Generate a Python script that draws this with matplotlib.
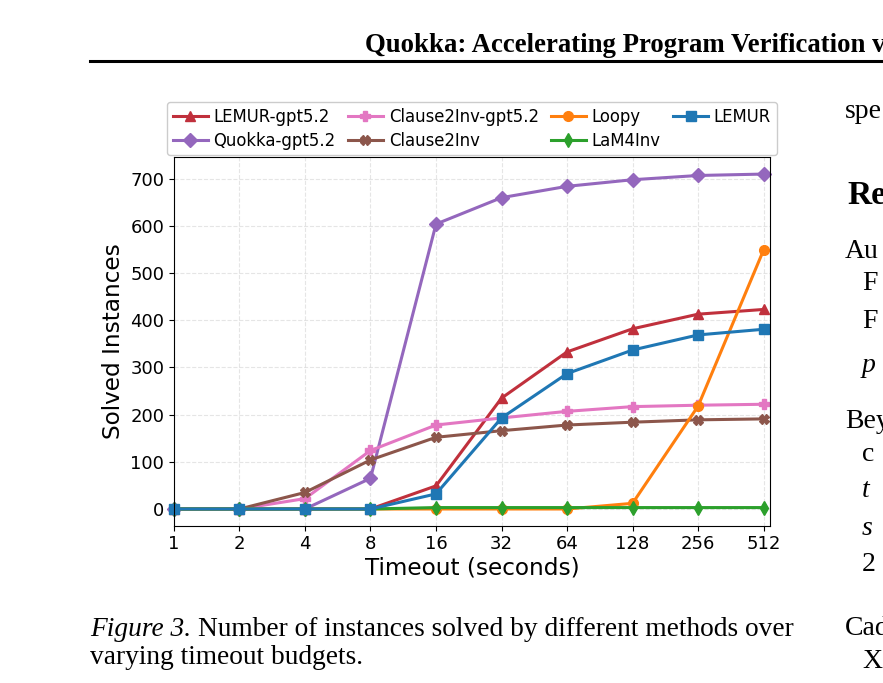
import numpy as np
import matplotlib
matplotlib.use('Agg')
import matplotlib.pyplot as plt

# timeouts in seconds
timeouts = [1, 2, 4, 8, 16, 32, 64, 128, 256, 512]

lemur_gpt = [0, 0, 0, 0, 49, 235, 333, 382, 413, 423]
quokka_gpt = [0, 0, 0, 65, 604, 660, 684, 698, 707, 710]
clause2inv_gpt = [0, 0, 22, 124, 178, 193, 207, 217, 220, 222]
clause2inv = [0, 0, 35, 104, 152, 166, 178, 184, 189, 191]
loopy = [0, 0, 0, 0, 0, 0, 0, 12, 218, 549]
lam4inv = [0, 0, 0, 0, 3, 3, 3, 3, 3, 3]
lemur = [0, 0, 0, 0, 32, 193, 287, 337, 369, 381]

series = [
    ('LEMUR-gpt5.2', lemur_gpt, '#c0303c', '^'),
    ('Quokka-gpt5.2', quokka_gpt, '#9467bd', 'D'),
    ('Clause2Inv-gpt5.2', clause2inv_gpt, '#e377c2', 'P'),
    ('Clause2Inv', clause2inv, '#8c564b', 'X'),
    ('Loopy', loopy, '#ff7f0e', 'o'),
    ('LaM4Inv', lam4inv, '#2ca02c', 'd'),
    ('LEMUR', lemur, '#1f77b4', 's'),
]

fig = plt.figure(figsize=(8.83, 6.83), dpi=100)
ax = fig.add_axes([0.197, 0.2306, 0.675, 0.5394])

for name, vals, col, mk in series:
    ax.plot(timeouts, vals, color=col, marker=mk, lw=2.2, ms=7, label=name,
            clip_on=False)

ax.set_xscale('log', base=2)
ax.set_xlim(1, 512 * 1.07)
ax.set_xticks(timeouts)
ax.set_xticklabels([str(t) for t in timeouts])
ax.minorticks_off()
ax.set_ylim(-35, 746)
ax.set_yticks([0, 100, 200, 300, 400, 500, 600, 700])
ax.tick_params(labelsize=13)
ax.set_xlabel('Timeout (seconds)', fontsize=16.7, labelpad=2)
ax.set_ylabel('Solved Instances', fontsize=16.7, labelpad=4)
ax.grid(True, ls='--', color='#cccccc', alpha=0.5, lw=0.8)

ax.legend(loc='lower center', bbox_to_anchor=(0.5, 1.0), ncol=4, fontsize=11.9,
          borderaxespad=0.1, columnspacing=0.75, handlelength=2.1,
          handletextpad=0.36, labelspacing=0.35, borderpad=0.35,
          framealpha=1, edgecolor='#cccccc')

# page bits around the figure (cut at the right edge like the page crop)
serif = 'Liberation Serif'
fig.text(365 / 883, 1 - 52 / 683, 'Quokka: Accelerating Program Verification via',
         fontsize=19.3, fontweight='bold', family=serif, va='baseline')
fig.add_artist(plt.Line2D([90 / 883, 1.0], [1 - 61 / 683] * 2, color='black', lw=2.2))

fig_lbl = fig.text(90 / 883, 1 - 636 / 683, 'Figure 3.', fontsize=19.7, style='italic',
                   family=serif, va='baseline')
r = fig.canvas.get_renderer()
bb = fig_lbl.get_window_extent(renderer=r)
fig.text(bb.x1 / 883 + 7 / 883, 1 - 636 / 683,
         'Number of instances solved by different methods over',
         fontsize=19.7, family=serif, va='baseline')
fig.text(90 / 883, 1 - 664 / 683, 'varying timeout budgets.', fontsize=19.7,
         family=serif, va='baseline')

right = [
    (845, 118, 'spe', 'normal', 'normal', 20),
    (847, 204, 'Re', 'bold', 'normal', 24),
    (845, 258, 'Au', 'normal', 'normal', 20),
    (862, 290, 'F', 'normal', 'normal', 20),
    (862, 328, 'F', 'normal', 'normal', 20),
    (862, 372, 'p', 'normal', 'italic', 20),
    (845, 428, 'Bey', 'normal', 'normal', 20),
    (862, 461, 'c', 'normal', 'normal', 20),
    (862, 497, 't', 'normal', 'italic', 20),
    (862, 535, 's', 'normal', 'italic', 20),
    (862, 571, '2', 'normal', 'normal', 20),
    (845, 635, 'Cad', 'normal', 'normal', 20),
    (862, 668, 'X', 'normal', 'normal', 20),
]
for x, y, s, w, st, fs in right:
    fig.text(x / 883, 1 - y / 683, s, fontsize=fs, fontweight=w, style=st,
             family=serif, va='baseline')

fig.savefig('out.png', dpi=100)
